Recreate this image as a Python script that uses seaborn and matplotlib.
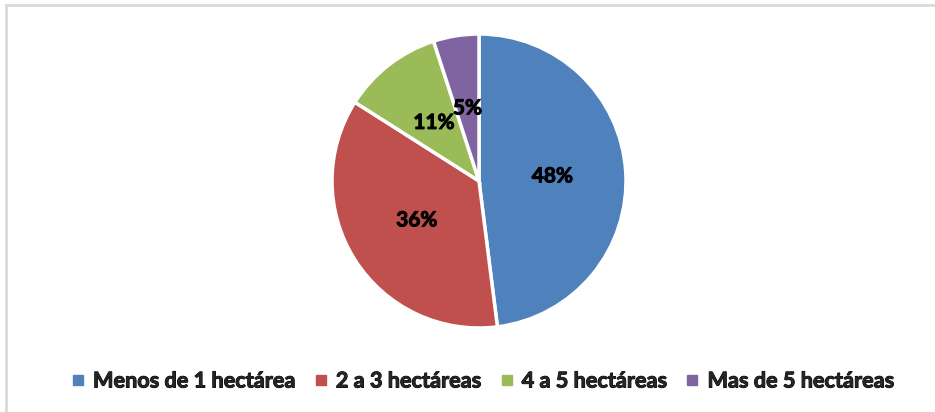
import matplotlib
matplotlib.use("Agg")
import matplotlib.pyplot as plt
import matplotlib.patheffects as pe
from matplotlib.lines import Line2D
from matplotlib.patches import Rectangle
import seaborn as sns

# Farm size distribution
categories = ["Menos de 1 hectárea", "2 a 3 hectáreas", "4 a 5 hectáreas", "Mas de 5 hectáreas"]
shares = [48, 36, 11, 5]
colors = ["#4F81BD", "#C0504D", "#9BBB59", "#8064A2"]

sns.set_theme(style="white")
plt.rcParams["font.family"] = ["Lato", "DejaVu Sans"]

W, H = 935, 412
fig = plt.figure(figsize=(W / 100, H / 100), dpi=100)
fig.patch.set_facecolor("white")

# chart area border (extends past right and bottom edges)
fig.patches.append(Rectangle((6 / W, -0.05), 1.2, (H - 5) / H + 0.05,
                             transform=fig.transFigure, fill=False,
                             edgecolor="#D9D9D9", linewidth=2))

heavy = [pe.withStroke(linewidth=0.7, foreground="black")]

cx, cy, r = 479, 181, 147
ax = fig.add_axes([(cx - r) / W, (H - cy - r) / H, 2 * r / W, 2 * r / H])
wedges, texts, autotexts = ax.pie(
    shares, colors=colors, startangle=90, counterclock=False,
    autopct=lambda p: f"{p:.0f}%", pctdistance=0.5,
    wedgeprops=dict(edgecolor="white", linewidth=2.5),
    textprops=dict(fontsize=15, fontweight="bold", color="black"),
)
for t in autotexts:
    t.set_path_effects(heavy)
ax.set_xlim(-1.0, 1.0)
ax.set_ylim(-1.0, 1.0)
ax.set_aspect("equal")
ax.axis("off")

handles = [Line2D([0], [0], marker="s", linestyle="none", markersize=7,
                  markerfacecolor=c, markeredgecolor=c) for c in colors]
leg = fig.legend(handles, categories, loc="center", bbox_to_anchor=(483 / W, 1 - 381 / H),
                 ncol=4, frameon=False, handlelength=0.6, handletextpad=0.4,
                 columnspacing=0.85, prop=dict(size=15.6, weight="bold"))
for t in leg.get_texts():
    t.set_path_effects(heavy)

fig.savefig("out.png", dpi=100)
